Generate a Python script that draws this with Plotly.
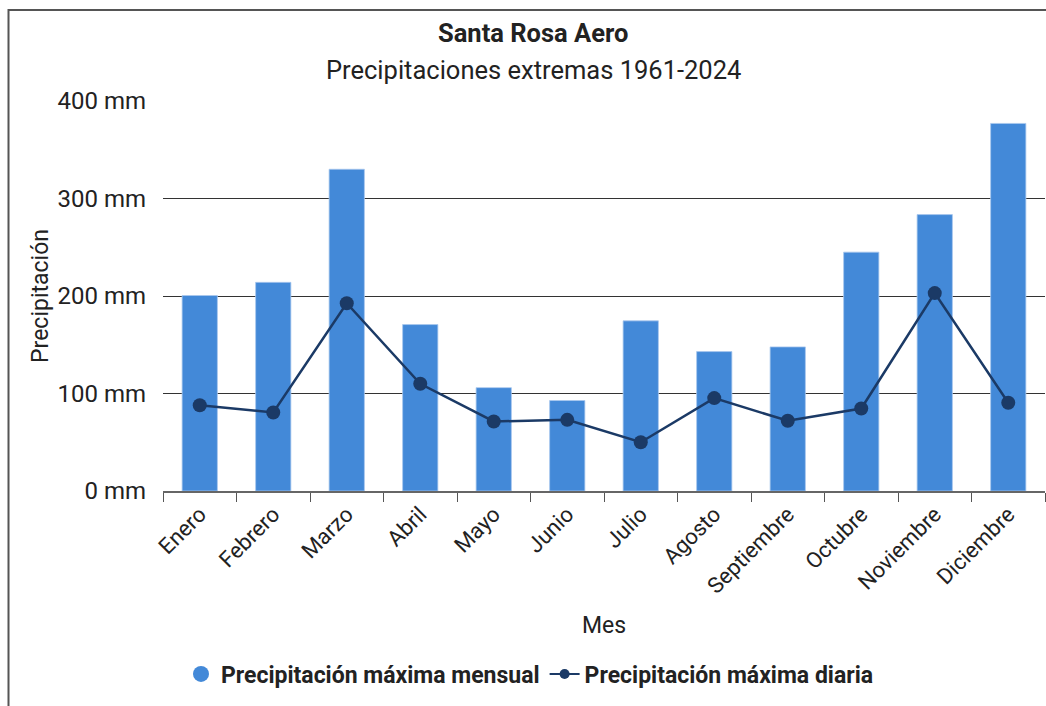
import plotly.graph_objects as go

meses = ["Enero", "Febrero", "Marzo", "Abril", "Mayo", "Junio", "Julio",
         "Agosto", "Septiembre", "Octubre", "Noviembre", "Diciembre"]
max_mensual = [200.5, 214, 330, 170.7, 106, 92.8, 174.5, 143, 147.8, 245, 283.5, 377]
max_diaria = [88, 80.5, 192.6, 110, 71.3, 73, 50, 95.3, 72, 84.6, 203, 90.5]
y_ticks = [0, 100, 200, 300, 400]
y_tick_text = ["0 mm", "100 mm", "200 mm", "300 mm", "400 mm"]

BAR = "#4389d8"
LINE = "#1b3a66"
TXT = "#222222"
FONT = "Roboto"

fig = go.Figure()
fig.add_trace(go.Bar(
    x=meses, y=max_mensual, name="Precipitación máxima mensual",
    marker=dict(color=BAR, line=dict(color="#a9c8ee", width=0.8)),
    showlegend=False,
))
fig.add_trace(go.Scatter(
    x=meses, y=max_diaria, mode="lines+markers", name="Precipitación máxima diaria",
    line=dict(color=LINE, width=2.5),
    marker=dict(color=LINE, size=14),
    showlegend=False,
))
# legend entries (symbols styled like the reference legend)
fig.add_trace(go.Scatter(
    x=[None], y=[None], mode="markers", name="Precipitación máxima mensual",
    marker=dict(color=BAR, size=21, symbol="circle"),
))
fig.add_trace(go.Scatter(
    x=[None], y=[None], mode="lines+markers", name="Precipitación máxima diaria",
    line=dict(color=LINE, width=2), marker=dict(color=LINE, size=10),
))

W, H = 1046, 706
L, R, T, B = 163, 1, 101, 215
pw = W - L - R
ph = H - T - B

def px_x(x):
    return (x - L) / pw

def px_y(y):
    return (H - B - y) / ph

fig.update_layout(
    width=W, height=H,
    margin=dict(l=L, r=R, t=T, b=B, pad=0),
    paper_bgcolor="white", plot_bgcolor="white",
    font=dict(family=FONT, color=TXT, size=22),
    bargap=0.52,
    showlegend=True,
    legend=dict(
        orientation="h", x=px_x(530), xanchor="center",
        y=px_y(674), yanchor="middle",
        font=dict(family=FONT, size=23, color=TXT, weight="bold"),
        itemsizing="trace", itemwidth=30, tracegroupgap=0,
    ),
    annotations=[
        dict(text="<b>Santa Rosa Aero</b>", xref="paper", yref="paper",
             x=px_x(533), y=px_y(33), xanchor="center", yanchor="middle",
             showarrow=False, font=dict(family=FONT, size=25.5, color=TXT)),
        dict(text="Precipitaciones extremas 1961-2024", xref="paper", yref="paper",
             x=px_x(533), y=px_y(70), xanchor="center", yanchor="middle",
             showarrow=False, font=dict(family=FONT, size=25.5, color=TXT)),
    ],
    shapes=[
        dict(type="rect", xref="paper", yref="paper",
             x0=px_x(8.5), x1=px_x(1100), y0=px_y(760), y1=px_y(10),
             line=dict(color="#555555", width=2), layer="below"),
    ],
)

fig.update_xaxes(
    type="category",
    range=[-0.5, len(meses) - 0.5],
    automargin=False,
    tickangle=-45,
    tickson="boundaries",
    ticks="outside", ticklen=9, tickcolor="#555555", tickwidth=1.2,
    showline=True, linecolor="#666666", linewidth=1.5,
    showgrid=False,
    tickfont=dict(family=FONT, size=22, color=TXT),
    title=dict(text="Mes", font=dict(family=FONT, size=23, color=TXT), standoff=19),
)
fig.update_yaxes(
    automargin=False,
    range=[0, 400],
    tickmode="array", tickvals=y_ticks, ticktext=y_tick_text,
    showgrid=True, gridcolor="#333333", gridwidth=1,
    zeroline=False, showline=False,
    ticks="", ticklabelstandoff=16,
    tickfont=dict(family=FONT, size=24, color=TXT),
    title=dict(text="Precipitación", font=dict(family=FONT, size=23, color=TXT), standoff=2),
)

fig.write_html(
    "out.html",
    config={"responsive": False, "displayModeBar": False},
    post_script="document.body.style.margin='0';document.body.style.overflow='hidden';",
)
